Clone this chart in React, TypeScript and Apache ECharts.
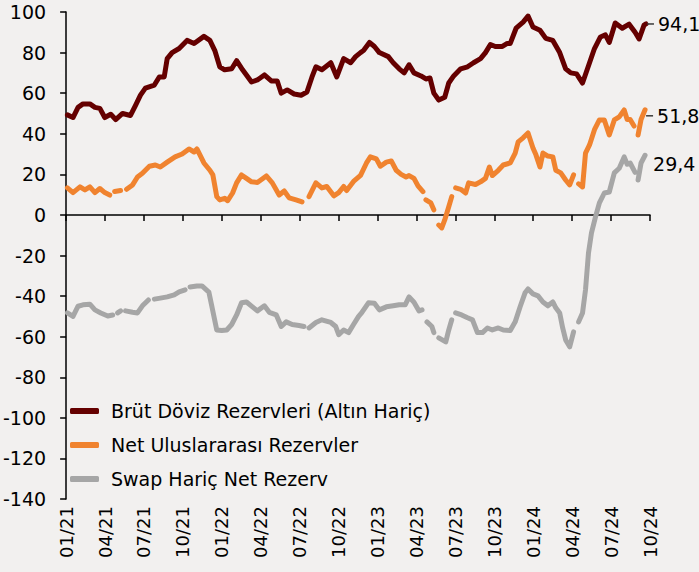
import { useEffect, useRef } from 'react';
import * as echarts from 'echarts';

// x = months since 01/2021 (0 = 01/21, 45 = 10/24); null = gap in the series
const quarterLabels = ['01/21', '04/21', '07/21', '10/21', '01/22', '04/22', '07/22', '10/22', '01/23', '04/23', '07/23', '10/23', '01/24', '04/24', '07/24', '10/24'];

const seriesNames = ['Brüt Döviz Rezervleri (Altın Hariç)', 'Net Uluslararası Rezervler', 'Swap Hariç Net Rezerv'];

const brutDoviz: [number, number | null][] = [
  [0.1, 49.3], [0.53, 48], [0.92, 53], [1.3, 54.7], [1.83, 54.7], [2.22, 53], [2.6, 52.5], [2.98, 48], [3.44, 49.6], [3.82, 47],
  [4.35, 50], [4.96, 49], [5.35, 54], [5.73, 59], [6.11, 62.5], [6.8, 64], [7.18, 68], [7.56, 68], [7.79, 77], [8.17, 80],
  [8.71, 82], [9.32, 86], [9.86, 84.5], [10.62, 88], [11.08, 86], [11.46, 81], [11.84, 73], [12.22, 71.5], [12.76, 72], [13.14, 76],
  [13.6, 71.5], [14.29, 65.5], [14.74, 66.5], [15.28, 69], [15.81, 66], [16.27, 66], [16.58, 60], [17.04, 61.6], [17.57, 59.6], [18.11, 59],
  [18.56, 60.6], [18.95, 68], [19.25, 73], [19.71, 71.5], [20.4, 75], [20.86, 68], [21.39, 77], [21.93, 75], [22.31, 78], [22.69, 80],
  [22.92, 81], [23.38, 85], [23.76, 83], [24.14, 80], [24.83, 78], [25.21, 75], [25.67, 72], [26.05, 70], [26.43, 74], [26.81, 70],
  [27.35, 68.5], [27.73, 67], [28.04, 67.5], [28.34, 60], [28.72, 56.6], [29.18, 58], [29.49, 65], [29.87, 68.5], [30.41, 72], [30.94, 73],
  [31.4, 75], [31.94, 77], [32.32, 80], [32.7, 84], [33.08, 83], [33.62, 83], [34.0, 84.5], [34.23, 84.5], [34.68, 92], [35.22, 95],
  [35.6, 98], [35.98, 92.6], [36.52, 91], [36.97, 87], [37.51, 86], [38.04, 80], [38.5, 72], [38.89, 70], [39.34, 69.5], [39.8, 65],
  [40.34, 75], [40.72, 82], [41.18, 87.7], [41.56, 88.7], [41.86, 85], [42.32, 94.6], [42.86, 92], [43.39, 94], [43.85, 90], [44.16, 86.7],
  [44.54, 93.5], [44.69, 94.1],
];

const netUluslararasi: [number, number | null][] = [
  [0.1, 13.3], [0.53, 11], [1.07, 13.8], [1.45, 12.3], [1.83, 13.8], [2.22, 11], [2.6, 13], [2.98, 11], [3.36, 9.8], [3.55, null],
  [3.74, 11.5], [4.2, 12], [4.42, null], [4.66, 12.6], [5.12, 14.8], [5.5, 18.7], [5.88, 20.5], [6.42, 24], [6.88, 24.6], [7.26, 23.6],
  [7.79, 26], [8.4, 28.6], [8.94, 30], [9.47, 32.5], [9.86, 31], [10.08, 32.5], [10.62, 25.6], [11.08, 22], [11.31, 19.7], [11.61, 9],
  [11.84, 7.4], [12.22, 8.2], [12.45, 7], [12.83, 10.8], [13.14, 15.8], [13.52, 19.7], [13.9, 18], [14.29, 16.3], [14.74, 16], [15.43, 19.2],
  [15.89, 15.8], [16.42, 9.8], [16.81, 11.8], [17.19, 8.4], [17.72, 7.4], [18.18, 6.4], [18.4, null], [18.72, 9], [19.25, 15.8], [19.71, 13.3],
  [20.09, 14], [20.63, 9.4], [21.01, 11], [21.39, 14], [21.62, 12], [22.15, 16.5], [22.69, 19.5], [23.15, 25.6], [23.45, 28.6], [23.91, 27.6],
  [24.22, 24], [24.68, 26], [25.06, 26.6], [25.44, 22], [25.82, 20], [26.2, 18.7], [26.43, 19.4], [26.81, 18], [27.12, 14.3], [27.5, 11.5],
  [27.62, null], [27.73, 7.4], [28.11, 5.9], [28.34, 2.5], [28.52, null], [28.72, -5], [28.95, -6.4], [29.18, -2.5], [29.49, 4], [29.72, 9],
  [29.87, null], [30.02, 13.3], [30.41, 12.6], [30.79, 10.8], [31.02, 15.8], [31.55, 15], [31.94, 16.3], [32.32, 18], [32.62, 23.6], [32.85, 19.4],
  [33.31, 22], [33.69, 24.6], [34.23, 25.6], [34.61, 30.5], [34.84, 36], [35.22, 38], [35.6, 40.4], [35.98, 33], [36.21, 29.6], [36.52, 23.6],
  [36.75, 30.5], [37.13, 29], [37.51, 28.6], [37.74, 22], [38.12, 20.7], [38.5, 17.2], [38.81, 14.8], [39.11, 19.7], [39.28, null], [39.5, 15.3],
  [39.8, 13.8], [40.03, 30.5], [40.34, 34.5], [40.72, 42], [41.1, 46.8], [41.48, 46.8], [41.86, 39.4], [42.25, 46.8], [42.63, 48.3], [43.01, 51.7],
  [43.24, 47], [43.47, 47], [43.77, 43.8], [43.92, null], [44.08, 39.4], [44.31, 47], [44.62, 51.8],
];

const swapHaric: [number, number | null][] = [
  [0.1, -48.3], [0.53, -50], [0.92, -45], [1.3, -44.3], [1.83, -44], [2.22, -46.8], [2.67, -48.3], [3.21, -49.8], [3.59, -49.3], [3.75, null],
  [3.97, -48.3], [4.2, -47.3], [4.38, null], [4.58, -47.3], [5.12, -48], [5.5, -48.3], [5.88, -44.8], [6.34, -41.9], [6.56, null], [6.8, -41.5],
  [7.26, -41], [7.79, -40.4], [8.33, -39.4], [8.71, -37.9], [9.17, -36.9], [9.35, null], [9.55, -35.5], [10.08, -35], [10.47, -35], [11.0, -38],
  [11.23, -45], [11.61, -56.7], [11.99, -57], [12.38, -56.7], [12.76, -54], [13.14, -49.3], [13.52, -43.3], [13.9, -42.9], [14.36, -45.3], [14.74, -47.3],
  [15.28, -44.8], [15.66, -48], [16.2, -49.3], [16.58, -55], [16.96, -52.7], [17.42, -54], [17.95, -54.5], [18.33, -55], [18.5, null], [18.72, -55.7],
  [19.25, -53], [19.71, -51.7], [20.4, -53], [20.78, -55], [21.01, -59], [21.39, -56.7], [21.77, -58], [22.15, -54], [22.54, -50], [22.77, -48.3],
  [23.3, -43.3], [23.76, -43.5], [24.14, -46.8], [24.68, -45.3], [25.21, -44.8], [25.67, -44.3], [26.13, -44.3], [26.43, -40.4], [26.81, -43], [27.2, -47.3],
  [27.43, -46.8], [27.62, null], [27.81, -52.7], [28.19, -55], [28.34, -58], [28.52, null], [28.72, -60.6], [29.26, -62.6], [29.49, -56.7], [29.72, -51.7],
  [29.87, null], [30.02, -48.3], [30.48, -49.3], [30.94, -50.7], [31.32, -51.7], [31.7, -58], [32.09, -58], [32.47, -55.7], [32.85, -56.7], [33.31, -55.7],
  [33.69, -56.7], [34.23, -57], [34.61, -52.7], [34.99, -45.3], [35.37, -38.4], [35.6, -36.5], [35.98, -38.9], [36.37, -39.9], [36.75, -42.9], [37.13, -44.8],
  [37.51, -42.9], [37.74, -45.8], [38.04, -48.3], [38.27, -55.7], [38.5, -61.6], [38.81, -65], [39.11, -57.6], [39.28, null], [39.5, -52.7], [39.8, -48.3],
  [40.03, -36.9], [40.26, -18.7], [40.49, -8.9], [40.8, -1], [41.1, 5.9], [41.48, 10.8], [41.86, 11.3], [42.25, 20.7], [42.63, 23], [43.01, 28.6],
  [43.24, 25], [43.47, 25.6], [43.85, 21], [43.95, null], [44.08, 17.2], [44.31, 25.6], [44.62, 29.4],
];

const colors = ['#650000', '#F0832F', '#A6A6A6'];
const FONT = 'DejaVu Sans';

const toData = (arr: [number, number | null][]) => arr.map(([x, y]) => [x, y === null ? '-' : y]);
const fmt = (v: number) => v.toFixed(1).replace('.', ',');

export default function App() {
  const ref = useRef<HTMLDivElement>(null);
  useEffect(() => {
    document.body.style.margin = '0';
    const chart = echarts.init(ref.current!, null, { renderer: 'svg' });
    const endLabel = (withDash: boolean, offset: number[]) => ({
      show: true,
      offset,
      distance: withDash ? 1 : 8,
      formatter: (p: any) => (withDash ? '{l|}{v|' + fmt(p.value[1]) + '}' : '{v|' + fmt(p.value[1]) + '}'),
      rich: {
        l: { width: 7, height: 1.5, backgroundColor: '#3a3a3a' },
        v: { fontSize: 19, fontFamily: FONT, color: '#000', padding: [0, 0, 0, withDash ? 4 : 0] },
      },
    });
    const datasets = [brutDoviz, netUluslararasi, swapHaric];
    const labelOffsets = [[0, 0], [0, 6], [0, 9]];
    chart.setOption({
      animation: false,
      backgroundColor: '#F2F0EF',
      textStyle: { fontFamily: FONT },
      grid: { left: 61, right: 49, top: 12, bottom: 73, containLabel: false },
      legend: {
        orient: 'vertical',
        left: 65,
        top: 396,
        icon: 'roundRect',
        itemWidth: 29,
        itemHeight: 6,
        itemGap: 14,
        data: seriesNames,
        textStyle: { fontSize: 19, fontFamily: FONT, color: '#000', lineHeight: 20, padding: [0, 0, 0, 7] },
      },
      xAxis: [
        {
          type: 'value',
          min: 0,
          max: 45,
          interval: 3,
          position: 'bottom',
          axisLine: { show: true, onZero: true, lineStyle: { color: '#000', width: 1.5 } },
          axisTick: { show: true, length: 6, lineStyle: { color: '#000', width: 1.5 } },
          axisLabel: { show: false },
          splitLine: { show: false },
        },
        {
          type: 'value',
          min: 0,
          max: 45,
          interval: 3,
          position: 'bottom',
          axisLine: { show: false, onZero: false },
          axisTick: { show: false },
          splitLine: { show: false },
          axisLabel: {
            show: true,
            rotate: 90,
            margin: 7,
            fontSize: 18,
            fontFamily: FONT,
            color: '#000',
            formatter: (v: number) => quarterLabels[Math.round(v / 3)] ?? '',
          },
        },
      ],
      yAxis: {
        type: 'value',
        min: -140,
        max: 100,
        interval: 20,
        axisLine: { show: true, lineStyle: { color: '#000', width: 1.5 } },
        axisTick: { show: true, length: 6, lineStyle: { color: '#000', width: 1.5 } },
        splitLine: { show: false },
        axisLabel: { fontSize: 19, fontFamily: FONT, color: '#000', margin: 20 },
      },
      series: datasets.map((d, i) => ({
        type: 'line',
        name: seriesNames[i],
        data: toData(d),
        xAxisIndex: 0,
        yAxisIndex: 0,
        showSymbol: false,
        symbol: 'none',
        connectNulls: false,
        color: colors[i],
        itemStyle: { color: colors[i] },
        lineStyle: { width: 5, color: colors[i], cap: 'round', join: 'round' },
        endLabel: endLabel(i < 2, labelOffsets[i]),
        z: 3 - i,
      })),
    });
    return () => chart.dispose();
  }, []);
  return <div ref={ref} style={{ position: 'absolute', left: 0, top: 0, width: 699, height: 572 }} />;
}
